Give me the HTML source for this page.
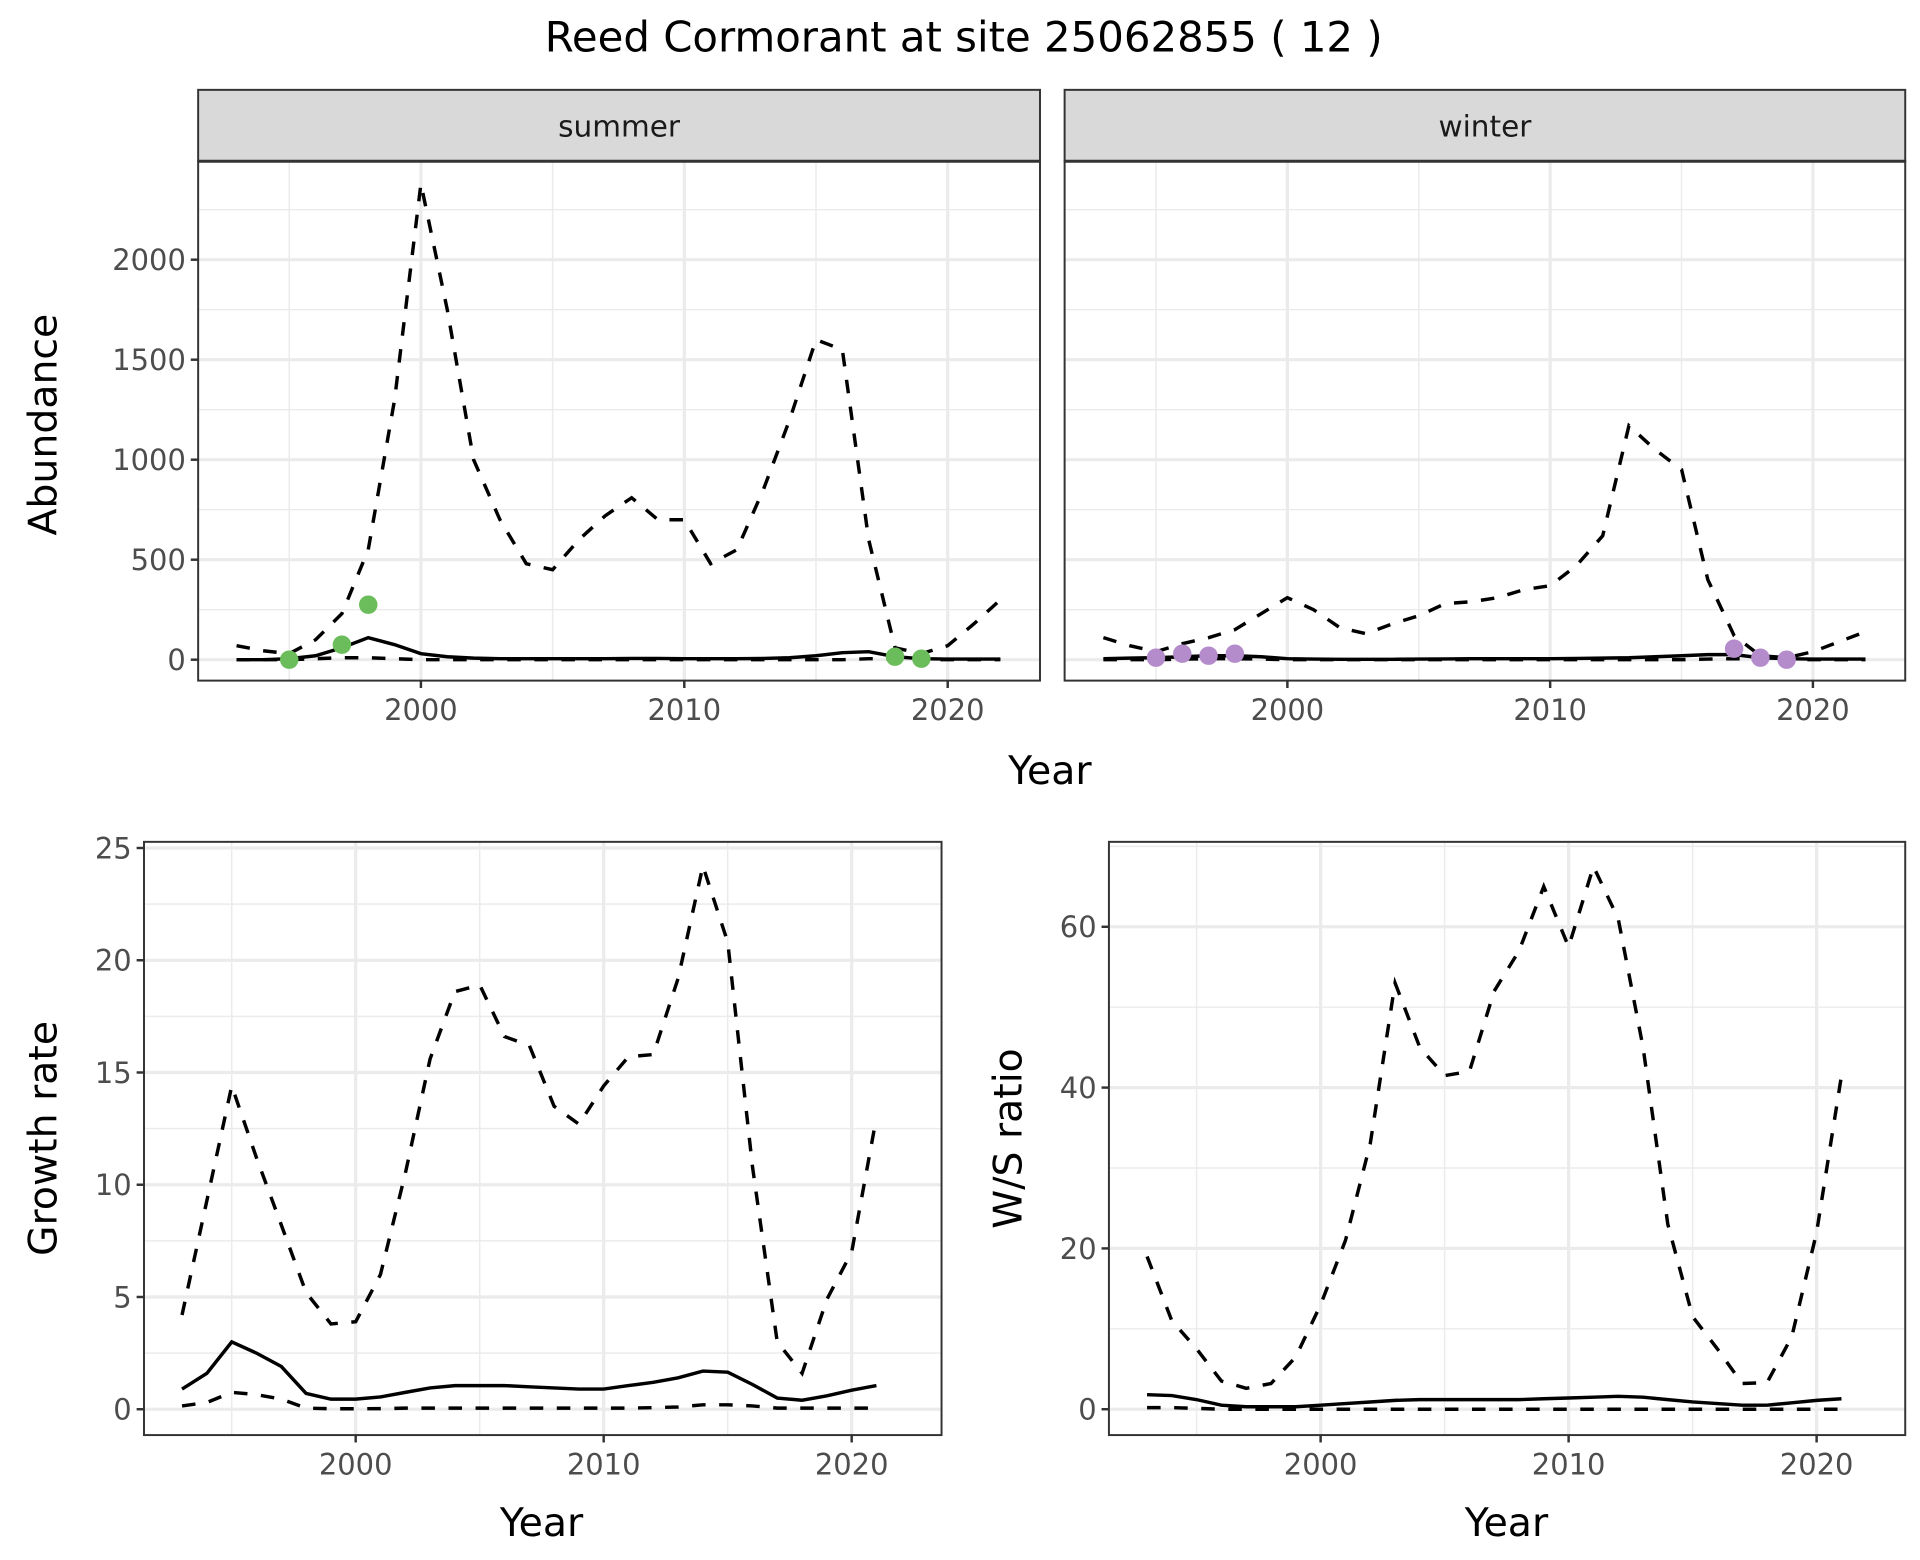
<!DOCTYPE html>
<html><head><meta charset="utf-8"><style>
html,body{margin:0;padding:0;background:#fff;width:1920px;height:1560px;overflow:hidden}
svg{display:block}
text{font-family:"DejaVu Sans","Liberation Sans",sans-serif}
</style></head><body>
<svg id="chart" width="1920" height="1560" viewBox="0 0 1560 1267.5" preserveAspectRatio="none" xmlns="http://www.w3.org/2000/svg">
<text x="783" y="42" font-size="34" text-anchor="middle" fill="#000">Reed Cormorant at site 25062855 ( 12 )</text>
</svg>
<script>
const yearsA = [1993,1994,1995,1996,1997,1998,1999,2000,2001,2002,2003,2004,2005,2006,2007,2008,2009,2010,2011,2012,2013,2014,2015,2016,2017,2018,2019,2020,2021,2022];
const sumUpper = [70,45,30,100,230,550,1300,2380,1750,1000,700,480,450,600,720,810,700,700,480,550,850,1200,1600,1550,600,60,30,70,180,300];
const sumMed = [0,0,5,20,60,110,75,30,15,8,5,5,5,5,5,6,6,5,5,5,6,10,20,35,40,15,5,3,3,3];
const sumLower = [0,0,0,5,10,10,5,0,0,0,0,0,0,0,0,0,0,0,0,0,0,0,0,0,5,5,0,0,0,0];
const sumPtYears = [1995,1997,1998,2018,2019];
const sumPtVals = [0,75,275,15,5];
const winUpper = [110,70,40,80,110,150,230,310,250,160,130,180,220,280,290,310,350,370,470,620,1170,1050,950,400,120,20,10,40,90,140];
const winMed = [5,8,10,15,20,20,15,5,3,2,2,2,3,4,5,5,5,5,6,8,10,15,20,25,25,10,5,3,3,3];
const winLower = [0,0,0,3,5,5,3,0,0,0,0,0,0,0,0,0,0,0,0,0,0,0,0,3,5,3,0,0,0,0];
const winPtYears = [1995,1996,1997,1998,2017,2018,2019];
const winPtVals = [10,30,20,30,55,10,0];
const yearsB = [1993,1994,1995,1996,1997,1998,1999,2000,2001,2002,2003,2004,2005,2006,2007,2008,2009,2010,2011,2012,2013,2014,2015,2016,2017,2018,2019,2020,2021];
const grUpper = [4.2,9.3,14.4,11.2,8.2,5.2,3.8,3.9,6.0,10.5,15.6,18.6,18.9,16.6,16.2,13.5,12.7,14.4,15.7,15.8,19.2,24.2,20.8,10.8,3.0,1.6,4.9,7.0,13.0];
const grMed = [0.9,1.6,3.0,2.5,1.9,0.7,0.45,0.45,0.55,0.75,0.95,1.05,1.05,1.05,1.0,0.95,0.9,0.9,1.05,1.2,1.4,1.7,1.65,1.1,0.5,0.4,0.6,0.85,1.05];
const grLower = [0.15,0.3,0.75,0.65,0.45,0.05,0.02,0.02,0.03,0.05,0.05,0.05,0.05,0.05,0.05,0.05,0.05,0.05,0.05,0.07,0.1,0.2,0.2,0.15,0.05,0.05,0.05,0.05,0.05];
const wsUpper = [19,11,7.5,3.5,2.6,3.2,6.5,13,21,33,53,45,41.5,42,52,57,65,57.5,67.5,61,45,23,11.5,7.5,3.2,3.3,9,22,41.5];
const wsMed = [1.8,1.7,1.2,0.5,0.3,0.3,0.3,0.5,0.7,0.9,1.1,1.2,1.2,1.2,1.2,1.2,1.3,1.4,1.5,1.6,1.5,1.2,0.9,0.7,0.5,0.5,0.8,1.1,1.3];
const wsLower = [0.2,0.2,0.1,0,0,0,0,0,0,0,0,0,0,0,0,0,0,0,0,0,0,0,0,0,0,0,0,0,0];
const xTicks = [2000,2010,2020];
const xMinor = [1995,2005,2015];
const abTicks = [0,500,1000,1500,2000];
const grTicks = [0,5,10,15,20,25];
const wsTicks = [0,20,40,60];

const svg = document.getElementById('chart');
const NS = 'http://www.w3.org/2000/svg';
function mk(tag, attrs, parent){const e=document.createElementNS(NS,tag);for(const k in attrs)e.setAttribute(k,attrs[k]);(parent||svg).appendChild(e);return e;}
function txt(s, attrs){const e=mk('text',attrs);e.textContent=s;return e;}

function panel(p){
  const g = mk('g',{});
  
  
  p.yMinor.forEach(v=>{const y=p.sy(v); if(y>p.y0&&y<p.y1) mk('line',{x1:p.x0,x2:p.x1,y1:y,y2:y,stroke:'#ebebeb','stroke-width':1.2},g);});
  xMinor.forEach(v=>{const x=p.sx(v); mk('line',{x1:x,x2:x,y1:p.y0,y2:p.y1,stroke:'#ebebeb','stroke-width':1.2},g);});
  p.yTicks.forEach(v=>{const y=p.sy(v); mk('line',{x1:p.x0,x2:p.x1,y1:y,y2:y,stroke:'#ebebeb','stroke-width':2.6},g);});
  xTicks.forEach(v=>{const x=p.sx(v); mk('line',{x1:x,x2:x,y1:p.y0,y2:p.y1,stroke:'#ebebeb','stroke-width':2.6},g);});
  p.series.forEach(s=>{
    const d = s.vals.map((v,i)=>(i?'L':'M')+p.sx(s.years[i]).toFixed(1)+','+p.sy(v).toFixed(1)).join('');
    const path = mk('path',{d:d,fill:'none',stroke:'#000','stroke-width':2.8,'stroke-dasharray':s.dash?'11,11':'none'},g);
    
    
  });
  if(p.pts){p.pts.years.forEach((yr,i)=>{
    const c = mk('circle',{cx:p.sx(yr),cy:p.sy(p.pts.vals[i]),r:7.5,fill:p.pts.color},g);
    
    
  });}
  mk('rect',{x:p.x0,y:p.y0,width:p.x1-p.x0,height:p.y1-p.y0,fill:'none',stroke:'#333','stroke-width':1.6},g);
  xTicks.forEach(v=>{const x=p.sx(v); mk('line',{x1:x,x2:x,y1:p.y1,y2:p.y1+6,stroke:'#333','stroke-width':2},g);
    const t=txt(v,{x:x,y:p.y1+32,'font-size':23.5,'text-anchor':'middle',fill:'#4d4d4d'});  });
  if(p.showY){p.yTicks.forEach(v=>{const y=p.sy(v); mk('line',{x1:p.x0-6,x2:p.x0,y1:y,y2:y,stroke:'#333','stroke-width':2},g);
    const t=txt(v,{x:p.x0-10,y:y+8.5,'font-size':23.5,'text-anchor':'end',fill:'#4d4d4d'});  });}
}
function lin(d0,d1,r0,r1){return v=>r0+(v-d0)*(r1-r0)/(d1-d0);}

const abY = lin(0,2000,536,211);
const abMinor = [250,750,1250,1750,2250];
panel({name:'summer-panel',x0:161,x1:845,y0:131,y1:553,sx:lin(2000,2020,342,770),sy:abY,yTicks:abTicks,yMinor:abMinor,showY:true,
  series:[{name:'summer-upper-line',years:yearsA,vals:sumUpper,dash:true},{name:'summer-median-line',years:yearsA,vals:sumMed},{name:'summer-lower-line',years:yearsA,vals:sumLower,dash:true}],
  pts:{years:sumPtYears,vals:sumPtVals,color:'#6abd5a'}});
panel({name:'winter-panel',x0:865,x1:1548,y0:131,y1:553,sx:lin(2000,2020,1046,1473),sy:abY,yTicks:abTicks,yMinor:abMinor,showY:false,
  series:[{name:'winter-upper-line',years:yearsA,vals:winUpper,dash:true},{name:'winter-median-line',years:yearsA,vals:winMed},{name:'winter-lower-line',years:yearsA,vals:winLower,dash:true}],
  pts:{years:winPtYears,vals:winPtVals,color:'#b48bcb'}});
[['summer',161,845],['winter',865,1548]].forEach(([lab,a,b])=>{
  const r=mk('rect',{x:a,y:73,width:b-a,height:58,fill:'#d9d9d9',stroke:'#333','stroke-width':1.6});
   
  mk('line',{x1:a,x2:b,y1:131,y2:131,stroke:'#333','stroke-width':2.5});
  const t=txt(lab,{x:(a+b)/2,y:111,'font-size':24,'text-anchor':'middle',fill:'#1a1a1a'});
   
});
panel({name:'growth-panel',x0:117,x1:765,y0:684,y1:1166,sx:lin(2000,2020,289,692),sy:lin(0,25,1145,689),yTicks:grTicks,yMinor:[2.5,7.5,12.5,17.5,22.5],showY:true,
  series:[{name:'growth-upper-line',years:yearsB,vals:grUpper,dash:true},{name:'growth-median-line',years:yearsB,vals:grMed},{name:'growth-lower-line',years:yearsB,vals:grLower,dash:true}]});
panel({name:'ws-panel',x0:901,x1:1548,y0:684,y1:1166,sx:lin(2000,2020,1073,1476),sy:lin(0,60,1145,753),yTicks:wsTicks,yMinor:[10,30,50,70],showY:true,
  series:[{name:'ws-upper-line',years:yearsB,vals:wsUpper,dash:true},{name:'ws-median-line',years:yearsB,vals:wsMed},{name:'ws-lower-line',years:yearsB,vals:wsLower,dash:true}]});
function title(s,x,y,rot,name){const t=txt(s,{x:x,y:y,'font-size':32,'text-anchor':'middle',fill:'#000',transform:rot?`rotate(-90 ${x} ${y})`:''});
   }
title('Year',853,637,false,'abundance-x-axis-title');
title('Abundance',46,345,true,'abundance-y-axis-title');
title('Year',440,1248,false,'growth-x-axis-title');
title('Growth rate',46,925,true,'growth-y-axis-title');
title('Year',1224,1248,false,'ws-x-axis-title');
title('W/S ratio',830,925,true,'ws-y-axis-title');
</script>
</body></html>
